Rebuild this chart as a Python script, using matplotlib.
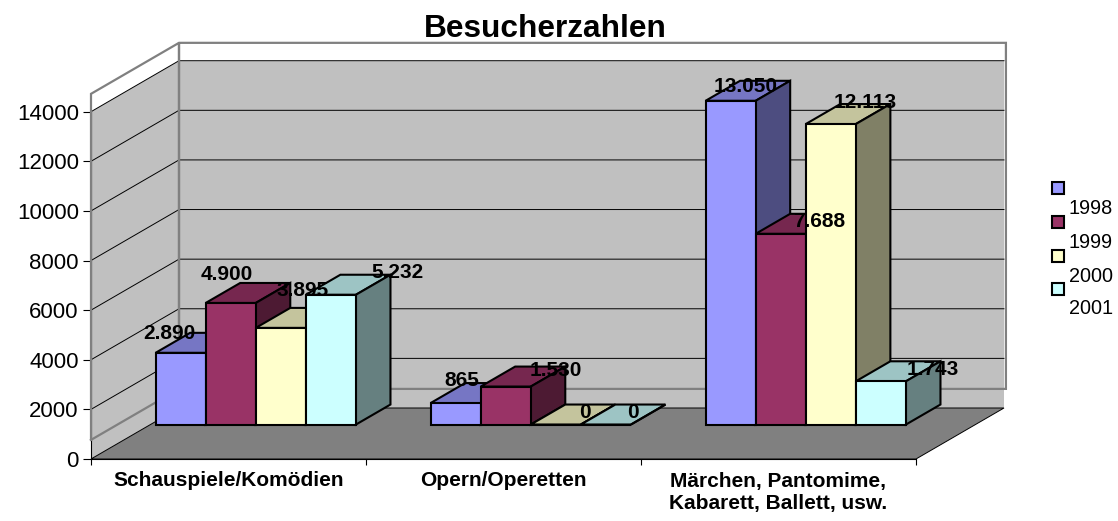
import matplotlib.pyplot as plt
from matplotlib.colors import to_rgb
from matplotlib.patches import Polygon, Rectangle

plt.rcParams['font.family'] = ['Liberation Sans', 'DejaVu Sans']

# Data
categories = ['Schauspiele/Komödien', 'Opern/Operetten', 'Märchen, Pantomime,\nKabarett, Ballett, usw.']
years = ['1998', '1999', '2000', '2001']
visits_1998 = [2890, 865, 13050]
visits_1999 = [4900, 1530, 7688]
visits_2000 = [3895, 0, 12113]
visits_2001 = [5232, 0, 1743]
series = [visits_1998, visits_1999, visits_2000, visits_2001]
colors = ['#9999FF', '#993366', '#FFFFCC', '#CCFFFF']
yticks = [0, 2000, 4000, 6000, 8000, 10000, 12000, 14000]

# Pixel offsets of the value labels from the bar front top, series by category
label_dx = [[-11, 6, 15], [-4, 50, 38], [22, 29, 34], [67, 27, 52]]
label_dy = [[19, 23, 14], [28, 16, 12], [37, 12, 22], [22, 12, 12]]

# Oblique projection: depth z=1 is the back wall
W, H = 1118, 521
DEPTH_X = 88 / 275
DEPTH_Y = 2056
FRAME_BOTTOM, FRAME_TOP = 770, 14720
BAR_W = 50.1 / 275
BAR_GAP = 0.0185
Z0, Z1 = 0.676, 1.068


def proj(x, v, z):
    return x + z * DEPTH_X, v + z * DEPTH_Y


def shade(color, f):
    return tuple(c * f for c in to_rgb(color))


fig = plt.figure(figsize=(W / 100, H / 100), dpi=100)
ax = fig.add_axes([91 / W, 1 - 459 / H, 825 / W, 347.3 / H])
ax.set_xlim(0, 3)
ax.set_ylim(0, 14000)
ax.patch.set_visible(False)
for side in ['top', 'right']:
    ax.spines[side].set_visible(False)
ax.spines['left'].set_linewidth(0.8)
ax.spines['bottom'].set_linewidth(0.8)

# Walls and floor
ax.add_patch(Polygon([proj(0, 0, 1), proj(3, 0, 1), proj(3, 14000, 1), proj(0, 14000, 1)],
                     fc='#C0C0C0', ec='none', clip_on=False, zorder=1))
ax.add_patch(Polygon([proj(0, 0, 0), proj(0, 0, 1), proj(0, 14000, 1), proj(0, 14000, 0)],
                     fc='#C0C0C0', ec='none', clip_on=False, zorder=1))
for t in yticks[1:]:
    xs, ys = zip(proj(0, t, 0), proj(0, t, 1), proj(3, t, 1))
    ax.plot(xs, ys, color='black', lw=0.7, clip_on=False, zorder=2)

# Grey frame, shifted up from the floor
frame = [proj(0, FRAME_BOTTOM, 0), proj(0, FRAME_BOTTOM, 1), proj(0, FRAME_TOP, 1), proj(0, FRAME_BOTTOM, 1),
         proj(3.007, FRAME_BOTTOM, 1), proj(3.007, FRAME_TOP, 1), proj(0, FRAME_TOP, 1), proj(0, FRAME_TOP, 0),
         proj(0, FRAME_BOTTOM, 0)]
ax.plot(*zip(*frame), color='#808080', lw=1.6, clip_on=False, zorder=3, solid_joinstyle='miter')

ax.add_patch(Polygon([proj(0, 0, 0), proj(3, 0, 0), proj(3, 0, 1), proj(0, 0, 1)],
                     fc='#808080', ec='black', lw=0.7, clip_on=False, zorder=4))

# Bars, painted left to right
z = 5
for i in range(len(categories)):
    for j, values in enumerate(series):
        v = values[i]
        x0 = i + BAR_GAP + j * BAR_W
        x1 = x0 + BAR_W
        faces = [
            ([proj(x0, v, Z0), proj(x1, v, Z0), proj(x1, v, Z1), proj(x0, v, Z1)], shade(colors[j], 0.77)),
            ([proj(x1, 0, Z0), proj(x1, 0, Z1), proj(x1, v, Z1), proj(x1, v, Z0)], shade(colors[j], 0.5)),
            ([proj(x0, 0, Z0), proj(x1, 0, Z0), proj(x1, v, Z0), proj(x0, v, Z0)], colors[j]),
        ]
        for pts, fc in faces:
            ax.add_patch(Polygon(pts, fc=fc, ec='black', lw=1.5, joinstyle='miter', clip_on=False, zorder=z))
            z += 1

# Value labels
for i in range(len(categories)):
    for j, values in enumerate(series):
        v = values[i]
        xc = i + BAR_GAP + (j + 0.5) * BAR_W
        txt = f'{v:,}'.replace(',', '.')
        ax.annotate(txt, xy=proj(xc, v, Z0), xytext=(label_dx[j][i] * 0.72, label_dy[j][i] * 0.72),
                    textcoords='offset points', ha='center', va='center', fontsize=15,
                    fontweight='bold', color='black', zorder=100, annotation_clip=False)

# Axes ticks and labels
ax.set_yticks(yticks)
ax.set_yticklabels([str(t) for t in yticks], fontsize=16)
ax.tick_params(axis='y', length=5.8, width=0.8, pad=3)
ax.set_xticks([0, 1, 2, 3])
ax.set_xticklabels([])
ax.tick_params(axis='x', which='major', length=4.5, width=0.8)
ax.set_xticks([0.5, 1.5, 2.5], minor=True)
ax.set_xticklabels(categories, minor=True, fontsize=15, fontweight='bold', linespacing=1.2, va='top')
ax.tick_params(axis='x', which='minor', length=0, pad=9)

fig.text(545.5 / W, 1 - 29 / H, 'Besucherzahlen', fontsize=22.8, fontweight='bold', ha='center', va='center')

# Legend, with the labels sitting lower than their keys
key_y = [188, 222, 256, 289]
for year, color, y in zip(years, colors, key_y):
    fig.add_artist(Rectangle(((1058 - 6) / W, 1 - (y + 6) / H), 12 / W, 12 / H, fc=color, ec='black', lw=1.5,
                             transform=fig.transFigure))
    fig.text(1069 / W, 1 - (y + 20) / H, year, fontsize=14.3, ha='left', va='center')

fig.savefig('out.png', dpi=100)
